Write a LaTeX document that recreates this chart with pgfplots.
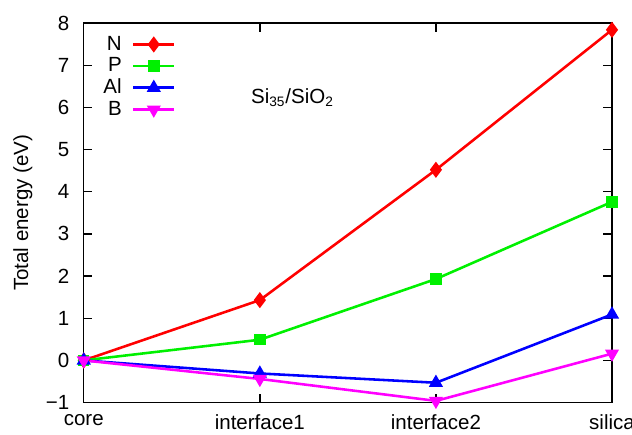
\documentclass[border=0pt]{standalone}
\usepackage{pgfplots}
\pgfplotsset{compat=1.18}
\usepackage{fontspec}
\setmainfont{Liberation Sans}
\definecolor{gpred}{RGB}{255,0,0}
\definecolor{gpgreen}{RGB}{0,240,0}
\definecolor{gpblue}{RGB}{0,0,255}
\definecolor{gpmag}{RGB}{255,0,255}
\begin{document}
\begin{tikzpicture}
\begin{axis}[
  name=ax,
  scale only axis,
  width=309pt, height=222pt,
  xmin=0, xmax=3, ymin=-1, ymax=8,
  xtick={0,1,2,3},
  xticklabels={core,interface1,interface2,silica},
  ytick={-1,0,...,8},
  yticklabels={−1,0,1,2,3,4,5,6,7,8},
  tick align=inside,
  major tick length=5pt,
  tick label style={font=\fontsize{12}{14}\selectfont},
  yticklabel style={xshift=-5pt},
  xticklabel style={inner sep=1pt, yshift=-6pt},
  ylabel={Total energy (eV)},
  ylabel style={font=\fontsize{12}{14}\selectfont, yshift=1pt},
  axis line style={line width=0.8pt},
  every tick/.style={line width=0.8pt,black},
  legend plot pos=right,
  legend cell align=right,
  legend style={draw=none, fill=none, at={(0.027,0.98)}, anchor=north west,
    font=\fontsize{12}{13}\selectfont, row sep=-1.2pt, inner sep=1pt},
  legend image code/.code={\path (0cm,0cm); \draw[mark repeat=2,mark phase=2] plot coordinates {(0.14cm,0cm)(0.5625cm,0cm)(0.985cm,0cm)};},
  every axis plot/.append style={line width=1.5pt},
  clip=false,
]
\addplot[color=gpred, mark=diamond*, mark size=3.5pt] coordinates {(0,0) (1,1.43) (2,4.52) (3,7.84)};
\addlegendentry{N}
\addplot[color=gpgreen, mark=square*, mark size=2.6pt] coordinates {(0,0) (1,0.49) (2,1.93) (3,3.76)};
\addlegendentry{P}
\addplot[color=gpblue, mark=triangle*, mark size=3.3pt] coordinates {(0,0) (1,-0.31) (2,-0.53) (3,1.09)};
\addlegendentry{Al}
\addplot[color=gpmag, mark=triangle*, mark size=3.3pt, mark options={rotate=180}] coordinates {(0,0) (1,-0.44) (2,-0.96) (3,0.16)};
\addlegendentry{B}
\node[anchor=west, font=\fontsize{12}{14}\selectfont] at (axis cs:0.916,6.23) {Si\textsubscript{35}/SiO\textsubscript{2}};
\end{axis}
\pgfresetboundingbox
\path ([xshift=-49pt,yshift=-18.5pt]ax.south west) rectangle ([xshift=11.7pt,yshift=13.5pt]ax.north east);
\end{tikzpicture}
\end{document}
